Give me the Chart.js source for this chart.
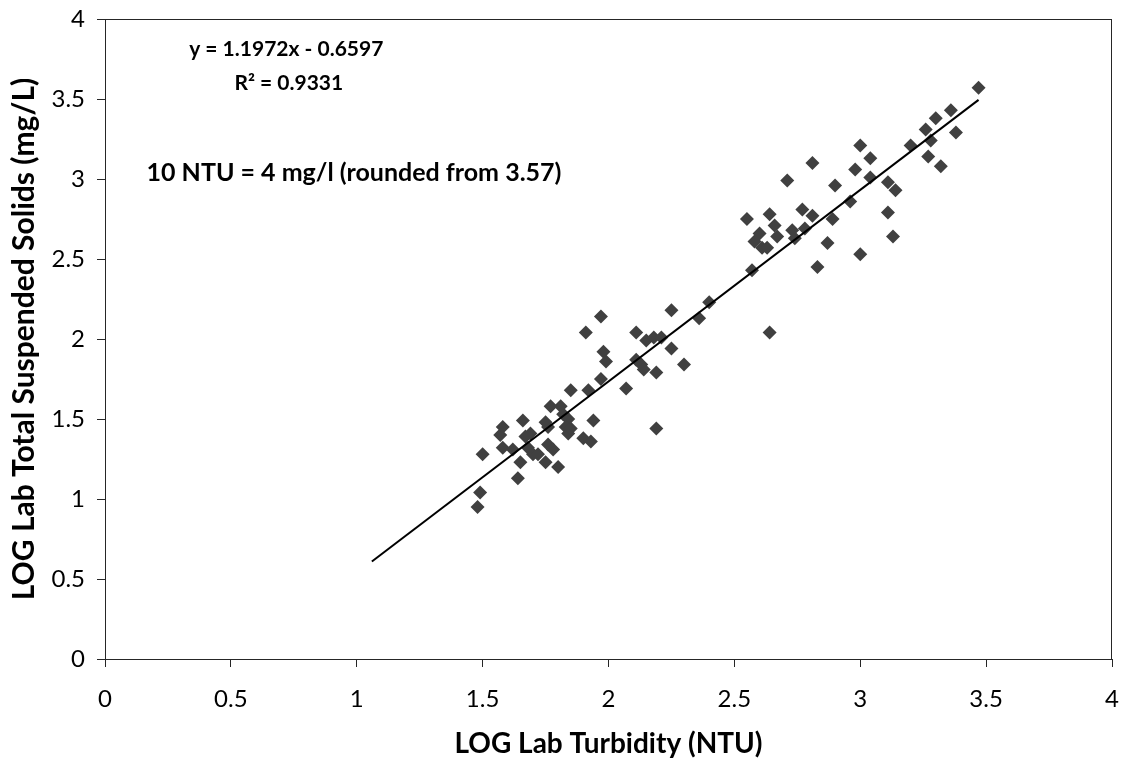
<!DOCTYPE html>
<html>
<head>
<meta charset="utf-8">
<script src="https://cdn.jsdelivr.net/npm/chart.js@4.4.1/dist/chart.umd.min.js"></script>
<style>
  html, body { margin: 0; padding: 0; background: #fff; }
  #wrap { width: 1122px; height: 761px; position: relative; }
</style>
</head>
<body>
<div id="wrap"><canvas id="scatterChart"></canvas></div>
<script>
// LOG lab turbidity (x) vs LOG lab TSS (y)
const turbidity = [
    1.48, 1.49, 1.50, 1.57, 1.58, 1.58, 1.62, 1.64, 1.65, 1.66,
    1.67, 1.69, 1.68, 1.70, 1.72, 1.75, 1.76, 1.76, 1.78, 1.75,
    1.80, 1.77, 1.81, 1.82, 1.84, 1.83, 1.84, 1.85, 1.90, 1.93,
    1.94, 1.85, 1.92, 1.97, 1.91, 1.97, 1.98, 1.99, 2.07, 2.11,
    2.15, 2.18, 2.21, 2.11, 2.13, 2.14, 2.19, 2.19, 2.25, 2.25,
    2.30, 2.36, 2.40, 2.64, 2.57, 2.55, 2.64, 2.66, 2.67, 2.60,
    2.58, 2.61, 2.63, 2.73, 2.74, 2.77, 2.81, 2.78, 2.89, 2.87,
    2.83, 2.81, 2.71, 2.90, 2.96, 2.98, 3.00, 3.04, 3.04, 3.11,
    3.14, 3.11, 3.13, 3.00, 3.20, 3.26, 3.28, 3.27, 3.30, 3.32,
    3.36, 3.38, 3.47
];
const suspendedSolids = [
    0.95, 1.04, 1.28, 1.40, 1.45, 1.32, 1.31, 1.13, 1.23, 1.49,
    1.39, 1.41, 1.32, 1.28, 1.28, 1.48, 1.45, 1.34, 1.31, 1.23,
    1.20, 1.58, 1.58, 1.53, 1.50, 1.45, 1.41, 1.44, 1.38, 1.36,
    1.49, 1.68, 1.68, 1.75, 2.04, 2.14, 1.92, 1.86, 1.69, 2.04,
    1.99, 2.01, 2.01, 1.87, 1.84, 1.81, 1.79, 1.44, 2.18, 1.94,
    1.84, 2.13, 2.23, 2.04, 2.43, 2.75, 2.78, 2.71, 2.64, 2.66,
    2.61, 2.57, 2.57, 2.68, 2.63, 2.81, 2.77, 2.69, 2.75, 2.60,
    2.45, 3.10, 2.99, 2.96, 2.86, 3.06, 3.21, 3.13, 3.01, 2.98,
    2.93, 2.79, 2.64, 2.53, 3.21, 3.31, 3.24, 3.14, 3.38, 3.08,
    3.43, 3.29, 3.57
];

// linear trend y = 1.1972x - 0.6597 drawn between these x values
const trendSlope = 1.1972;
const trendIntercept = -0.6597;
const trendX = [1.06, 3.47];

const xTicks = [0, 0.5, 1, 1.5, 2, 2.5, 3, 3.5, 4];
const yTicks = [0, 0.5, 1, 1.5, 2, 2.5, 3, 3.5, 4];

const equationText = 'y = 1.1972x - 0.6597';
const rSquaredText = 'R\u00b2 = 0.9331';
const noteText = '10 NTU = 4 mg/l (rounded from 3.57)';

document.addEventListener('DOMContentLoaded', function() {
    const FONT = 'Lato, "Open Sans", sans-serif';

    const points = turbidity.map((x, i) => ({ x: x, y: suspendedSolids[i] }));
    const trendPoints = trendX.map(x => ({ x: x, y: trendSlope * x + trendIntercept }));

    // box around the plot + text labels
    const frameAndNotes = {
        id: 'frameAndNotes',
        afterDraw(chart) {
            const ctx = chart.ctx;
            const area = chart.chartArea;
            const xs = chart.scales.x;
            const ys = chart.scales.y;
            ctx.save();
            ctx.strokeStyle = '#262626';
            ctx.lineWidth = 1;
            ctx.strokeRect(area.left + 0.5, area.top + 0.5, area.right - area.left - 1, area.bottom - area.top);

            ctx.fillStyle = '#000';
            ctx.font = 'bold 21px ' + FONT;
            ctx.textBaseline = 'middle';
            ctx.textAlign = 'center';
            ctx.fillText(equationText, xs.getPixelForValue(0.72), ys.getPixelForValue(3.81));
            ctx.fillText(rSquaredText, xs.getPixelForValue(0.73), ys.getPixelForValue(3.60));
            ctx.textAlign = 'left';
            ctx.font = 'bold 25px ' + FONT;
            ctx.fillText(noteText, xs.getPixelForValue(0.165), ys.getPixelForValue(3.04));
            ctx.restore();
        }
    };

    const ctx = document.getElementById('scatterChart').getContext('2d');
    new Chart(ctx, {
        type: 'scatter',
        data: {
            datasets: [
                {
                    label: 'Data',
                    data: points,
                    pointStyle: 'rectRot',
                    pointRadius: 7,
                    pointBackgroundColor: '#404040',
                    pointBorderWidth: 0,
                    order: 2
                },
                {
                    label: 'Linear',
                    type: 'line',
                    data: trendPoints,
                    borderColor: '#000',
                    borderWidth: 2,
                    pointRadius: 0,
                    fill: false,
                    order: 1
                }
            ]
        },
        options: {
            responsive: true,
            maintainAspectRatio: false,
            animation: false,
            layout: {
                padding: { top: 19, right: 10, left: 0, bottom: 0 }
            },
            plugins: {
                legend: { display: false },
                tooltip: { enabled: false }
            },
            scales: {
                x: {
                    type: 'linear',
                    min: 0,
                    max: 4,
                    afterBuildTicks: function(axis) {
                        axis.ticks = xTicks.map(v => ({ value: v }));
                    },
                    afterFit: function(axis) {
                        axis.height = 102;
                        axis.paddingLeft = 0;
                        axis.paddingRight = 0;
                    },
                    grid: {
                        drawOnChartArea: false,
                        drawTicks: true,
                        tickLength: 8,
                        color: '#262626'
                    },
                    border: { display: true, color: '#262626' },
                    ticks: {
                        color: '#000',
                        padding: 18,
                        maxRotation: 0,
                        font: { family: FONT, size: 24 },
                        callback: function(value) { return String(value); }
                    },
                    title: {
                        display: true,
                        text: 'LOG Lab Turbidity (NTU)',
                        color: '#000',
                        padding: { top: 0, bottom: 0 },
                        font: { family: FONT, size: 28, weight: 'bold' }
                    }
                },
                y: {
                    type: 'linear',
                    min: 0,
                    max: 4,
                    afterBuildTicks: function(axis) {
                        axis.ticks = yTicks.map(v => ({ value: v }));
                    },
                    afterFit: function(axis) {
                        axis.width = 105;
                        axis.paddingTop = 0;
                        axis.paddingBottom = 0;
                    },
                    grid: {
                        drawOnChartArea: false,
                        drawTicks: true,
                        tickLength: 8,
                        color: '#262626'
                    },
                    border: { display: true, color: '#262626' },
                    ticks: {
                        color: '#000',
                        padding: 12,
                        font: { family: FONT, size: 24 },
                        callback: function(value) { return String(value); }
                    },
                    title: {
                        display: true,
                        text: 'LOG Lab Total Suspended Solids (mg/L)',
                        color: '#000',
                        padding: { top: 6, bottom: 0 },
                        font: { family: FONT, size: 30, weight: 'bold' }
                    }
                }
            }
        },
        plugins: [frameAndNotes]
    });
});
</script>
</body>
</html>
